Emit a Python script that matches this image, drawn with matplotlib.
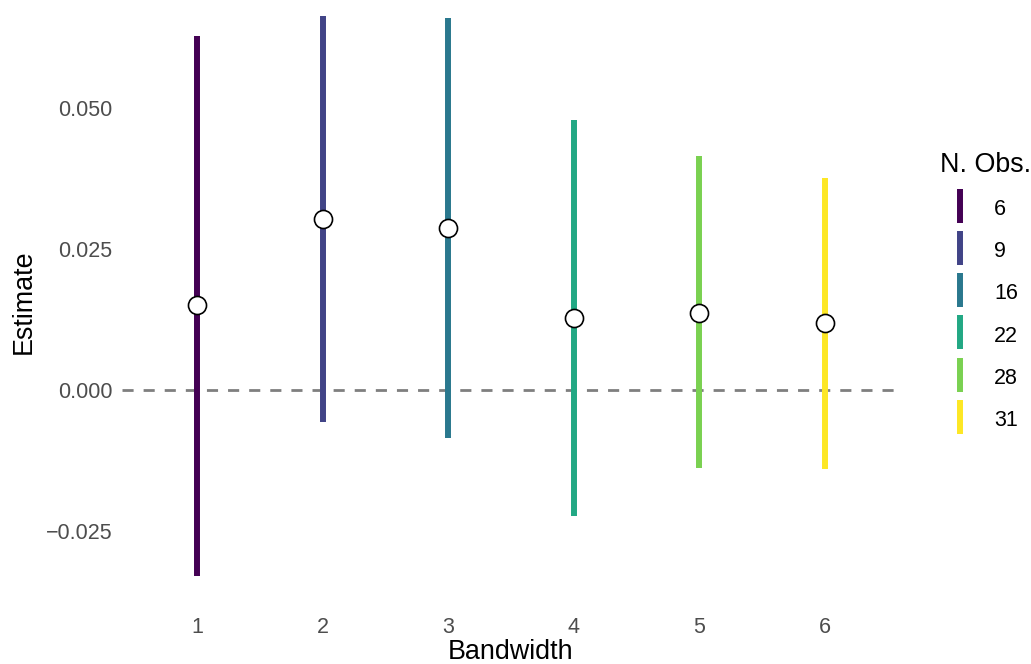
import matplotlib
matplotlib.use("Agg")
import matplotlib.pyplot as plt
from matplotlib.lines import Line2D

# RD estimates by bandwidth, with 95% intervals
bandwidth = [1, 2, 3, 4, 5, 6]
estimate = [0.0151, 0.0303, 0.0287, 0.0128, 0.0137, 0.0119]
ci_low = [-0.0330, -0.0056, -0.0085, -0.0223, -0.0138, -0.0140]
ci_high = [0.0628, 0.0663, 0.0660, 0.0479, 0.0415, 0.0376]
n_obs = [6, 9, 16, 22, 28, 31]
colors = ["#440154", "#414487", "#2A788E", "#22A884", "#7AD151", "#FDE725"]

yticks = [-0.025, 0.0, 0.025, 0.050]
ytick_labels = ["\u22120.025", "0.000", "0.025", "0.050"]

plt.rcParams["font.family"] = ["Liberation Sans", "DejaVu Sans"]

W, H = 1031, 664
fig = plt.figure(figsize=(W / 100, H / 100), dpi=100)
ax = fig.add_axes([122 / W, 1 - 604 / H, 778 / W, 604 / H])

ax.axhline(0, color="#7f7f7f", lw=2.0, ls=(0, (4, 3.6)), zorder=1)
for x, lo, hi, c in zip(bandwidth, ci_low, ci_high, colors):
    ax.vlines(x, lo, hi, color=c, lw=4.3, capstyle="butt", zorder=2)
ax.plot(bandwidth, estimate, "o", ms=13, mfc="white", mec="black", mew=1.2,
        ls="none", zorder=3)

ax.set_xlim(0.4, 6.6)
ax.set_ylim(-0.037943, 0.069149)
ax.set_xticks(bandwidth)
ax.set_yticks(yticks)
ax.set_yticklabels(ytick_labels)
ax.tick_params(axis="both", length=0, labelsize=15.5, labelcolor="#4d4d4d")
ax.tick_params(axis="x", pad=9.5)
ax.tick_params(axis="y", pad=7)
for s in ax.spines.values():
    s.set_visible(False)

ax.set_xlabel("Bandwidth", fontsize=19.4, labelpad=0.5)
ax.set_ylabel("Estimate", fontsize=19.4, labelpad=6.5)

handles = [Line2D([], [], marker="|", ls="none", ms=24.5, mew=4.3, color=c)
           for c in colors]
leg = fig.legend(handles, [str(n) for n in n_obs], title="N. Obs.",
                 loc="upper left", bbox_to_anchor=(940 / W, 1 - 152 / H),
                 frameon=False, fontsize=15.5, title_fontsize=19.4,
                 handlelength=1.86, handleheight=1.2, handletextpad=0.65,
                 labelspacing=0.875, borderpad=0, borderaxespad=0,
                 alignment="left")

fig.savefig("out.png", dpi=100, facecolor="white")
